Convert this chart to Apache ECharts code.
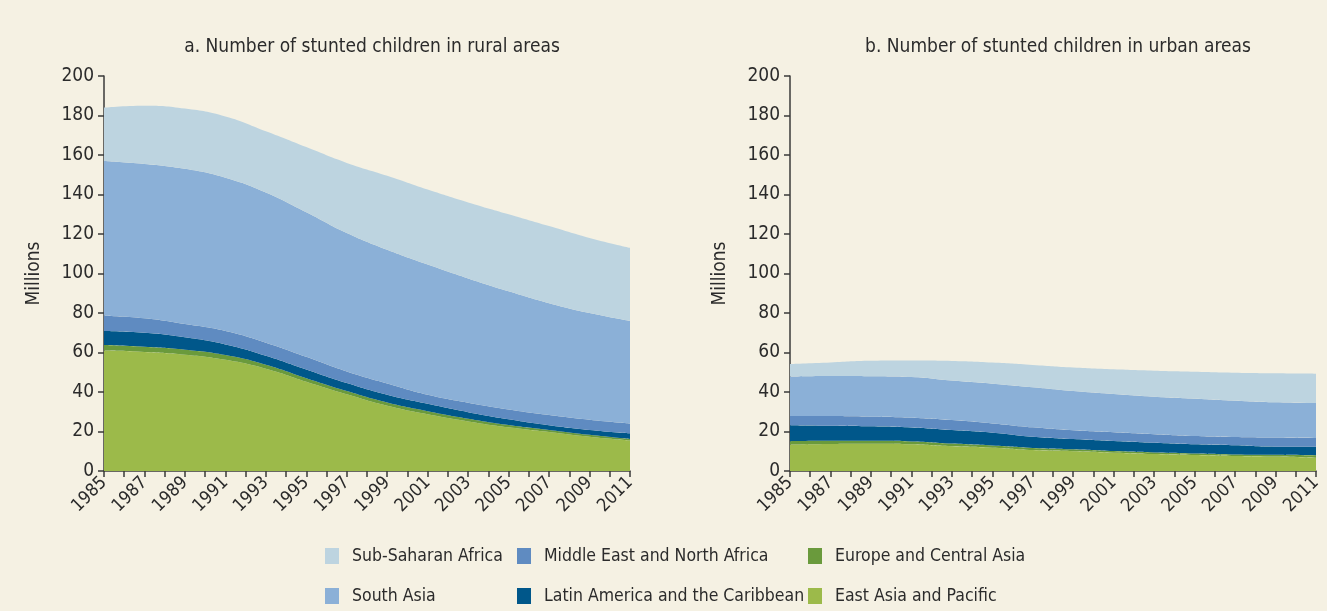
<!DOCTYPE html>
<html>
<head>
<meta charset="utf-8">
<script src="https://cdn.jsdelivr.net/npm/echarts@6/dist/echarts.min.js"></script>
<style>
  html, body { margin: 0; padding: 0; background: #f5f1e3; }
  #main { width: 1327px; height: 611px; }
</style>
</head>
<body>
<div id="main"></div>
<script>
// years (every second year)
var years = ['1985', '1987', '1989', '1991', '1993', '1995', '1997', '1999', '2001', '2003', '2005', '2007', '2009', '2011']

// rural areas, millions
var ruralEAP = [61, 60.3, 58.9, 56.3, 51.8, 45.2, 38.8, 33, 28.7, 25.1, 22.1, 19.7, 17.3, 15.4]
var ruralECA = [2.8, 2.6, 2.5, 2.4, 2.0, 1.8, 1.7, 1.7, 1.6, 1.4, 1.2, 1.1, 1.0, 0.8]
var ruralLAC = [7.1, 7.1, 6.3, 5.4, 4.6, 4.4, 4.0, 3.9, 3.7, 3.3, 2.9, 2.4, 2.5, 2.9]
var ruralMENA = [7.7, 7.3, 6.7, 6.8, 6.6, 6.4, 5.9, 5.7, 4.6, 4.8, 5.0, 5.2, 5.2, 5.0]
var ruralSA = [78.4, 78.2, 78.6, 77.6, 76, 73.2, 70.1, 67.7, 65.9, 62.9, 59.8, 56.6, 54, 51.9]
var ruralSSA = [27, 29.5, 30.5, 31, 31, 33, 35.5, 37.5, 38, 38.5, 39, 39, 38, 37]

// urban areas, millions
var urbanEAP = [13.4, 13.7, 13.8, 13.5, 12.5, 11.8, 10.6, 10.0, 9.3, 8.6, 8.1, 7.6, 7.3, 6.7]
var urbanECA = [1.7, 1.6, 1.5, 1.5, 1.4, 1.1, 1.1, 1.0, 0.8, 0.8, 0.8, 0.8, 0.9, 1.2]
var urbanLAC = [8.1, 7.6, 7.3, 7.0, 6.8, 6.5, 5.7, 5.2, 5.1, 4.9, 4.6, 4.6, 4.1, 4.4]
var urbanMENA = [4.7, 4.9, 4.9, 5.0, 5.1, 4.7, 4.7, 4.4, 4.4, 4.3, 4.2, 4.2, 4.6, 4.4]
var urbanSA = [19.9, 20.3, 20.5, 20.6, 20.0, 20.1, 20.3, 19.9, 19.4, 19, 18.9, 18.4, 17.9, 17.7]
var urbanSSA = [6.4, 6.9, 7.8, 8.3, 9.9, 10.7, 11.3, 11.9, 12.5, 13.2, 13.7, 14.2, 14.7, 14.9]

var names = ['East Asia and Pacific', 'Europe and Central Asia', 'Latin America and the Caribbean',
    'Middle East and North Africa', 'South Asia', 'Sub-Saharan Africa']
var colors = ['#9cba4a', '#6a9a3c', '#00578a', '#5f8bc1', '#8bb0d7', '#bdd4e0']
var titles = ['a. Number of stunted children in rural areas', 'b. Number of stunted children in urban areas']

var font = '"Liberation Sans Narrow", "DejaVu Sans Condensed", sans-serif'
var ink = '#2b2b2b'
var axisInk = '#3a3a3a'

var myChart = echarts.init(document.getElementById('main'))

// series sit on a hidden category axis (xAxis 2*idx), the visible yearly axis is 2*idx+1
function makeSeries(list, idx) {
    return list.map(function (vals, k) {
        return {
            name: names[k],
            type: 'line',
            xAxisIndex: idx * 2,
            yAxisIndex: idx,
            stack: 'total' + idx,
            smooth: true,
            showSymbol: false,
            symbol: 'none',
            lineStyle: { width: 0 },
            itemStyle: { color: colors[k] },
            areaStyle: { color: colors[k], opacity: 1 },
            data: vals
        }
    })
}

function dataAxis(idx) {
    return {
        type: 'category',
        gridIndex: idx,
        boundaryGap: false,
        data: years,
        show: false
    }
}

function yearAxis(idx) {
    return {
        type: 'value',
        gridIndex: idx,
        position: 'bottom',
        min: 1985,
        max: 2011,
        interval: 1,
        splitLine: { show: false },
        axisLine: { lineStyle: { color: axisInk, width: 1.5 } },
        axisTick: { length: 6, lineStyle: { color: axisInk, width: 1.5 } },
        axisLabel: {
            rotate: 45,
            margin: 9,
            color: ink,
            fontFamily: font,
            fontSize: 18,
            formatter: function (v) { return (v - 1985) % 2 === 0 ? String(v) : '' }
        }
    }
}

function yAxis(idx) {
    return {
        type: 'value',
        gridIndex: idx,
        min: 0,
        max: 200,
        interval: 20,
        name: 'Millions',
        nameLocation: 'middle',
        nameGap: 60,
        nameTextStyle: { color: ink, fontFamily: font, fontSize: 19 },
        splitLine: { show: false },
        axisLine: { show: true, lineStyle: { color: axisInk, width: 1.5 } },
        axisTick: { show: true, length: 6, lineStyle: { color: axisInk, width: 1.5 } },
        axisLabel: { color: ink, fontFamily: font, fontSize: 19, margin: 10 }
    }
}

function legend(left, items) {
    return {
        left: left,
        top: 547,
        orient: 'vertical',
        itemGap: 22,
        itemWidth: 14,
        itemHeight: 16,
        padding: 0,
        icon: 'rect',
        data: items,
        textStyle: { color: ink, fontFamily: font, fontSize: 17.5, padding: [0, 0, 0, 8] }
    }
}

var option = {
    backgroundColor: '#f5f1e3',
    animation: false,
    title: [
        { text: titles[0], left: 367, top: 33, textAlign: 'center',
          textStyle: { color: ink, fontFamily: font, fontSize: 19, fontWeight: 'normal' } },
        { text: titles[1], left: 1053, top: 33, textAlign: 'center',
          textStyle: { color: ink, fontFamily: font, fontSize: 19, fontWeight: 'normal' } }
    ],
    legend: [
        legend(325, ['Sub-Saharan Africa', 'South Asia']),
        legend(517, ['Middle East and North Africa', 'Latin America and the Caribbean']),
        legend(808, ['Europe and Central Asia', 'East Asia and Pacific'])
    ],
    grid: [
        { left: 104, right: 697, top: 76, bottom: 140 },
        { left: 790, right: 11, top: 76, bottom: 140 }
    ],
    xAxis: [dataAxis(0), yearAxis(0), dataAxis(1), yearAxis(1)],
    yAxis: [yAxis(0), yAxis(1)],
    series: makeSeries([ruralEAP, ruralECA, ruralLAC, ruralMENA, ruralSA, ruralSSA], 0)
        .concat(makeSeries([urbanEAP, urbanECA, urbanLAC, urbanMENA, urbanSA, urbanSSA], 1))
}

myChart.setOption(option)
</script>
</body>
</html>
